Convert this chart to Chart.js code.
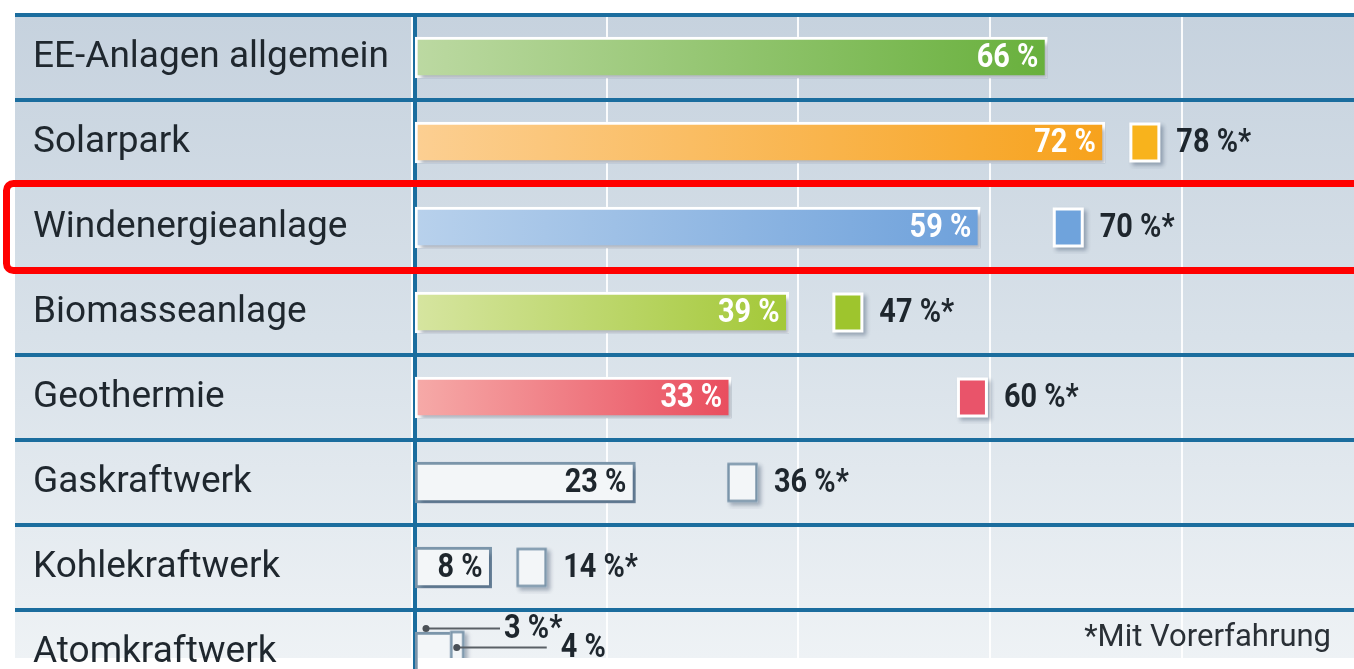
<!DOCTYPE html>
<html><head><meta charset="utf-8">
<script src="https://cdn.jsdelivr.net/npm/chart.js@4.4.1/dist/chart.umd.min.js"></script>
<style>
html,body{margin:0;padding:0;background:#fff;width:1354px;height:669px;overflow:hidden}
#wrap{width:1354px;height:669px;overflow:hidden;position:relative}
canvas{display:block}
</style></head><body>
<div id="wrap"><canvas id="c" width="1354" height="700"></canvas></div>
<script>
// ---- data ----
const categories = ['EE-Anlagen allgemein','Solarpark','Windenergieanlage','Biomasseanlage','Geothermie','Gaskraftwerk','Kohlekraftwerk','Atomkraftwerk'];
const valuesAll = [66, 72, 59, 39, 33, 23, 8, 4];
const valuesExperienced = [null, 78, 70, 47, 60, 36, 14, 3];
const labelsAll = ['66 %','72 %','59 %','39 %','33 %','23 %','8 %','4 %'];
const labelsExperienced = [null,'78 %*','70 %*','47 %*','60 %*','36 %*','14 %*','3 %*'];
const gridTicks = [20, 40, 60, 80];
const footnote = '*Mit Vorerfahrung';
const highlightCategory = 'Windenergieanlage';

// ---- styles ----
const outlined = [false,false,false,false,false,true,true,true];
const lightCols = ['#bcd9a2','#fccf92','#b8d1ec','#d6e5a0','#f6aaa8',null,null,null];
const darkCols  = ['#68b03c','#f7a21c','#6ea1db','#a3c837','#e94d5e',null,null,null];
const markerCols = [null,'#f8b31c','#6fa3dc','#9ec52d','#e9546a',null,null,null];
const OUTLINE = '#7b95aa', OUTFILL = '#f3f6f8';
const FONT = "Roboto, 'DejaVu Sans', sans-serif";
const CUT = 658;

function markerImg(i) {
  const special = i === 7;
  const w = special ? 15 : 31, h = special ? 44 : 40, pad = 6;
  const W = special ? 2*(8 + w + pad) : 2*(w + pad + 2);
  const c = document.createElement('canvas');
  c.width = W; c.height = h + 2*pad;
  const g = c.getContext('2d');
  const bx = special ? W/2 + 6 : W/2 - 2 - w, by = pad;
  g.shadowColor = 'rgba(30,50,80,0.35)'; g.shadowOffsetX = 3; g.shadowOffsetY = 3; g.shadowBlur = 4;
  g.fillStyle = outlined[i] ? OUTFILL : markerCols[i];
  g.fillRect(bx, by, w, h);
  g.shadowColor = 'transparent';
  g.lineWidth = outlined[i] ? 2.5 : 3;
  g.strokeStyle = outlined[i] ? OUTLINE : '#ffffff';
  g.strokeRect(bx + 1.5, by + 1.5, w - 3, h - 3);
  return c;
}

const markerIdx = [], markerPts = [], markerStyles = [];
valuesExperienced.forEach((v, i) => {
  if (v !== null) { markerIdx.push(i); markerPts.push({x: v, y: categories[i]}); markerStyles.push(markerImg(i)); }
});

function condText(ctx, txt, x, y, align, size) {
  ctx.save();
  ctx.font = 'bold ' + size + 'px ' + FONT;
  const sx = 0.85;
  const w = ctx.measureText(txt).width * sx;
  const left = align === 'right' ? x - w : x;
  ctx.translate(left, y);
  ctx.scale(sx, 1);
  ctx.textAlign = 'left';
  ctx.textBaseline = 'middle';
  ctx.fillText(txt, 0, 0);
  ctx.restore();
}

const bgPlugin = {
  id: 'bg',
  beforeDraw(chart) {
    const {ctx, chartArea: a} = chart;
    ctx.save();
    const g1 = ctx.createLinearGradient(0, a.top, 0, CUT);
    g1.addColorStop(0, '#c6d2de'); g1.addColorStop(0.5, '#d8e1e9'); g1.addColorStop(1, '#eef2f5');
    ctx.fillStyle = g1;
    ctx.fillRect(15, a.top, 396, CUT - a.top);
    ctx.fillRect(a.left, a.top, a.right - a.left, CUT - a.top);
    ctx.restore();
  }
};

const shadowPlugin = {
  id: 'shadow',
  beforeDatasetDraw(chart, args) {
    if (args.index !== 0) return;
    const ctx = chart.ctx;
    ctx.save();
    ctx.shadowColor = 'rgba(30,50,80,0.35)'; ctx.shadowOffsetX = 3; ctx.shadowOffsetY = 4; ctx.shadowBlur = 4;
  },
  afterDatasetDraw(chart, args) {
    if (args.index !== 0) return;
    chart.ctx.restore();
  }
};

const labelPlugin = {
  id: 'labels',
  afterDatasetsDraw(chart) {
    const ctx = chart.ctx;
    const bars = chart.getDatasetMeta(0).data;
    const pts = chart.getDatasetMeta(1).data;
    ctx.save();
    // white bottom strip over plot area
    ctx.fillStyle = '#ffffff';
    ctx.fillRect(418, CUT, 1000, 60);
    bars.forEach((b, i) => {
      if (i === 7) return;
      ctx.fillStyle = outlined[i] ? '#1e262d' : '#ffffff';
      condText(ctx, labelsAll[i], b.x - 9, b.y + 1, 'right', 34);
    });
    pts.forEach((p, k) => {
      const i = markerIdx[k];
      if (i === 7) return;
      ctx.fillStyle = '#1e262d';
      condText(ctx, labelsExperienced[i], p.x + 14, p.y + 1, 'left', 34);
    });
    // Atomkraftwerk: leader lines
    const b = bars[7], p = pts[markerIdx.indexOf(7)];
    const yU = b.y - 24, yL = b.y - 5;
    const x1 = b.base + 11, x2 = p.x + 13;
    ctx.strokeStyle = '#5a6066'; ctx.lineWidth = 2; ctx.fillStyle = '#4a5056';
    ctx.beginPath(); ctx.moveTo(x1, yU); ctx.lineTo(x1 + 74, yU); ctx.stroke();
    ctx.beginPath(); ctx.arc(x1, yU, 3.5, 0, Math.PI*2); ctx.fill();
    ctx.beginPath(); ctx.moveTo(x2, yL); ctx.lineTo(x2 + 90, yL); ctx.stroke();
    ctx.beginPath(); ctx.arc(x2, yL, 3.5, 0, Math.PI*2); ctx.fill();
    ctx.fillStyle = '#1e262d';
    condText(ctx, labelsExperienced[7], x1 + 78, yU + 1, 'left', 34);
    condText(ctx, labelsAll[7], x2 + 104, yL + 1, 'left', 34);
    ctx.restore();
  }
};

const overlayPlugin = {
  id: 'overlay',
  afterDraw(chart) {
    const ctx = chart.ctx, y = chart.scales.y;
    ctx.save();
    // footnote
    ctx.font = '31px ' + FONT;
    ctx.fillStyle = '#2a3036';
    ctx.textAlign = 'right'; ctx.textBaseline = 'middle';
    ctx.fillText(footnote, 1331, 638);
    // highlight
    const yc = y.getPixelForValue(categories.indexOf(highlightCategory));
    ctx.strokeStyle = '#ff0000'; ctx.lineWidth = 7;
    ctx.beginPath();
    ctx.roundRect(6.5, yc - 44, 1400, 87, 7);
    ctx.stroke();
    ctx.restore();
  }
};

new Chart(document.getElementById('c'), {
  type: 'bar',
  data: {
    labels: categories,
    datasets: [{
      label: 'Alle',
      data: valuesAll,
      barThickness: 41,
      borderSkipped: false,
      borderWidth: 3,
      borderColor: (c) => outlined[c.dataIndex] ? OUTLINE : '#ffffff',
      backgroundColor: (c) => {
        const chart = c.chart, i = c.dataIndex;
        if (i === undefined) return '#ccc';
        if (outlined[i]) return OUTFILL;
        const xs = chart.scales.x;
        if (!xs || !chart.chartArea) return darkCols[i];
        const x0 = xs.getPixelForValue(0), x1 = xs.getPixelForValue(valuesAll[i]);
        const g = chart.ctx.createLinearGradient(x0, 0, x1, 0);
        g.addColorStop(0, lightCols[i]); g.addColorStop(1, darkCols[i]);
        return g;
      },
      order: 2
    }, {
      type: 'line',
      label: 'Mit Vorerfahrung',
      indexAxis: 'y',
      data: markerPts,
      showLine: false,
      pointStyle: markerStyles,
      pointRadius: 12,
      xAxisID: 'x', yAxisID: 'y',
      order: 1
    }]
  },
  options: {
    indexAxis: 'y',
    responsive: false,
    animation: false,
    layout: { autoPadding: false, padding: { left: 33, top: 15, right: 0, bottom: 5 } },
    plugins: { legend: { display: false }, tooltip: { enabled: false } },
    scales: {
      x: {
        min: 0, max: 98,
        grid: {
          color: (c) => (c.tick && gridTicks.includes(c.tick.value)) ? 'rgba(255,255,255,0.9)' : 'rgba(0,0,0,0)',
          lineWidth: 2, drawTicks: false
        },
        border: { display: false },
        ticks: { display: false },
        afterBuildTicks: (s) => { s.ticks = gridTicks.map(v => ({value: v})); }
      },
      y: {
        type: 'category',
        offset: true,
        grid: { offset: true, color: '#1b6d9e', lineWidth: 4, tickLength: 400, drawTicks: true },
        border: { display: true, color: '#1b6d9e', width: 4 },
        ticks: { crossAlign: 'far', color: '#1f272e', font: { family: FONT, size: 37 }, padding: 0, autoSkip: false },
        afterFit: (s) => { s.width = 382; s.paddingTop = 0; s.paddingBottom = 0; }
      }
    }
  },
  plugins: [bgPlugin, shadowPlugin, labelPlugin, overlayPlugin]
});
</script>
</body></html>
